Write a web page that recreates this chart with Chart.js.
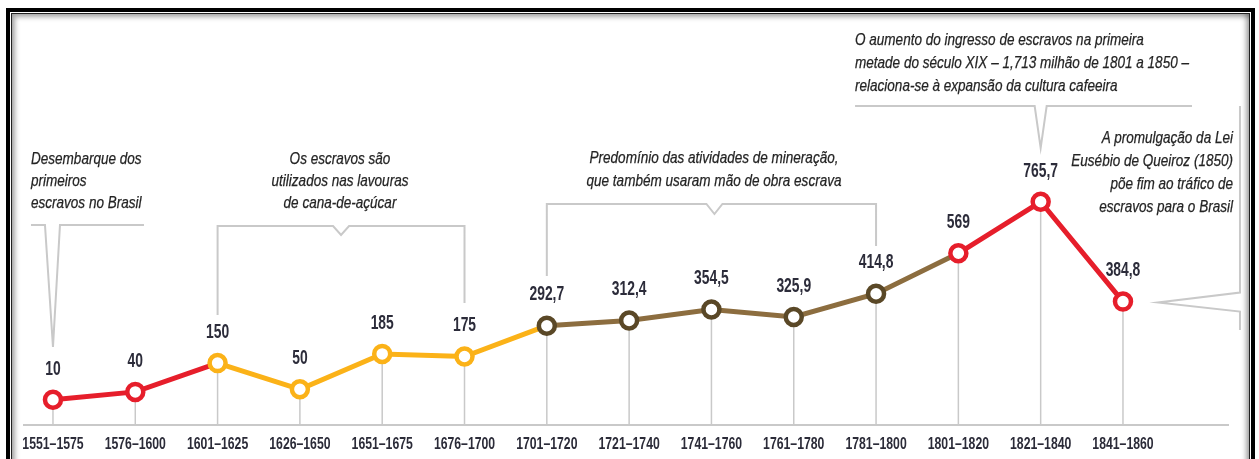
<!DOCTYPE html>
<html>
<head>
<meta charset="utf-8">
<script src="https://cdn.jsdelivr.net/npm/chart.js@4.4.1/dist/chart.umd.min.js"></script>
<style>
  html,body{margin:0;padding:0;background:#fff;}
  body{width:1259px;height:459px;position:relative;overflow:hidden;}
  .frame{position:absolute;left:6px;top:8px;width:1241px;height:470px;border:4px solid #000;border-bottom:none;}
  .frame-inner{position:absolute;left:1px;top:1px;right:1px;bottom:0;border:1px solid #222;border-bottom:none;
    box-shadow:inset 3px 3px 5px rgba(0,0,0,0.35), inset -3px -3px 5px rgba(0,0,0,0.35);}
  #wrap{position:absolute;left:0;top:0;width:1259px;height:459px;}
  .ann{position:absolute;font-family:'Liberation Sans',Arial,sans-serif;font-style:italic;
    font-size:16.5px;line-height:22px;color:#242424;white-space:nowrap;-webkit-text-stroke:0.25px #242424;}
  .l{transform:scaleX(0.82);transform-origin:0 0;text-align:left;}
  .c{transform:scaleX(0.82);transform-origin:50% 0;text-align:center;}
  .r{transform:scaleX(0.82);transform-origin:100% 0;text-align:right;}
</style>
</head>
<body>
<div class="frame"><div class="frame-inner"></div></div>
<div id="wrap"><canvas id="c" width="1259" height="459"></canvas></div>

<div class="ann l" style="left:31px;top:147px;">Desembarque dos<br>primeiros<br>escravos no Brasil</div>
<div class="ann c" style="left:190px;width:300px;top:147px;">Os escravos são<br>utilizados nas lavouras<br>de cana-de-açúcar</div>
<div class="ann c" style="left:514px;width:400px;top:146px;line-height:23px;">Predomínio das atividades de mineração,<br>que também usaram mão de obra escrava</div>
<div class="ann l" style="left:855px;top:28px;line-height:23px;">O aumento do ingresso de escravos na primeira<br>metade do século XIX – 1,713 milhão de 1801 a 1850 –<br>relaciona-se à expansão da cultura cafeeira</div>
<div class="ann r" style="left:933px;width:300px;top:126px;line-height:23px;">A promulgação da Lei<br>Eusébio de Queiroz (1850)<br>põe fim ao tráfico de<br>escravos para o Brasil</div>

<script>
// ---- data ----
const categories = ['1551–1575','1576–1600','1601–1625','1626–1650','1651–1675','1676–1700','1701–1720','1721–1740','1741–1760','1761–1780','1781–1800','1801–1820','1821–1840','1841–1860'];
const values = [10, 40, 150, 50, 185, 175, 292.7, 312.4, 354.5, 325.9, 414.8, 569, 765.7, 384.8];
const valueLabels = ['10','40','150','50','185','175','292,7','312,4','354,5','325,9','414,8','569','765,7','384,8'];
const periodGroup = ['red','red','orange','orange','orange','orange','brown','brown','brown','brown','brown','red','red','red'];

// ---- styles ----
const lineColors = {red:'#e61e2b', orange:'#fbb218', brown:'#8c6d3f'};
const pointColors = {red:'#e61e2b', orange:'#fbb218', brown:'#5a4827'};
const FONT = "'Liberation Sans',Arial,sans-serif";
const GREY = '#c9c9c9';

const overlay = {
  id:'overlay',
  beforeDatasetsDraw(chart){
    const ctx = chart.ctx, xs = chart.scales.x, area = chart.chartArea;
    const meta = chart.getDatasetMeta(0);
    const X = i => xs.getPixelForValue(i);
    ctx.save();
    ctx.strokeStyle = GREY;
    ctx.lineWidth = 1.5;
    meta.data.forEach(pt => {
      ctx.beginPath(); ctx.moveTo(pt.x, pt.y); ctx.lineTo(pt.x, area.bottom); ctx.stroke();
    });
    ctx.lineWidth = 2;
    const poly = pts => { ctx.beginPath(); ctx.moveTo(pts[0][0], pts[0][1]); for (let k=1;k<pts.length;k++) ctx.lineTo(pts[k][0], pts[k][1]); ctx.stroke(); };
    poly([[X(0)-22,225],[X(0)-8,225],[X(0),347],[X(0)+7,225],[X(0)+91,225]]);
    let m = (X(2)+X(5))/2;
    poly([[X(2),315],[X(2),226],[m-8,226],[m,235],[m+8,226],[X(5),226],[X(5),303]]);
    m = (X(6)+X(10))/2 + 3;
    poly([[X(6),276],[X(6),204],[m-8,204],[m,214],[m+8,204],[X(10),204],[X(10),246]]);
    poly([[X(10)-21,106],[X(12)-6,106],[X(12),148],[X(12)+6,106],[X(13)+69,106]]);
    const p13 = meta.data[13];
    poly([[X(13)+117,106],[X(13)+117,p13.y-9],[X(13)+35,p13.y+1],[X(13)+117,p13.y+10],[X(13)+117,330]]);
    ctx.restore();
  },
  afterDatasetsDraw(chart){
    const ctx = chart.ctx, xs = chart.scales.x;
    const meta = chart.getDatasetMeta(0);
    ctx.save();
    ctx.textAlign = 'center';
    ctx.textBaseline = 'middle';
    ctx.fillStyle = '#2c2c3a';
    ctx.font = "bold 21px " + FONT;
    meta.data.forEach((pt, i) => {
      ctx.save();
      ctx.translate(pt.x, pt.y - 31);
      ctx.scale(0.66, 1);
      ctx.fillText(valueLabels[i], 0, 0);
      ctx.restore();
    });
    ctx.fillStyle = '#2b2b38';
    ctx.font = "bold 17px " + FONT;
    xs.ticks.forEach((t, i) => {
      ctx.save();
      ctx.translate(xs.getPixelForTick(i), chart.chartArea.bottom + 19);
      ctx.scale(0.72, 1);
      ctx.fillText(categories[t.value], 0, 0);
      ctx.restore();
    });
    ctx.restore();
  }
};

new Chart(document.getElementById('c'), {
  type:'line',
  data:{
    datasets:[{
      data: values.map((v,i)=>({x:i,y:v})),
      borderWidth:5,
      pointRadius:8,
      pointHoverRadius:8,
      pointBorderWidth:4.5,
      pointBackgroundColor:'#fff',
      pointBorderColor: periodGroup.map(g=>pointColors[g]),
      segment:{ borderColor: c => lineColors[periodGroup[c.p0DataIndex]] },
      tension:0
    }]
  },
  options:{
    responsive:false,
    animation:false,
    events:[],
    layout:{padding:{left:24,right:31,top:0,bottom:0}},
    plugins:{legend:{display:false},tooltip:{enabled:false}},
    scales:{
      x:{
        type:'linear',
        min:-0.352, max:14.276,
        afterBuildTicks: s => { s.ticks = categories.map((_,i)=>({value:i})); },
        afterFit: s => { s.height = 34; },
        grid:{display:false, drawTicks:false},
        border:{display:true, color:GREY, width:2},
        ticks:{
          autoSkip:false, maxRotation:0, padding:10,
          color:'rgba(0,0,0,0)',
          font:{family:FONT, size:12},
          callback: v => categories[v]
        }
      },
      y:{
        display:false,
        min:-86.3, max:1488
      }
    }
  },
  plugins:[overlay]
});
</script>
</body>
</html>
